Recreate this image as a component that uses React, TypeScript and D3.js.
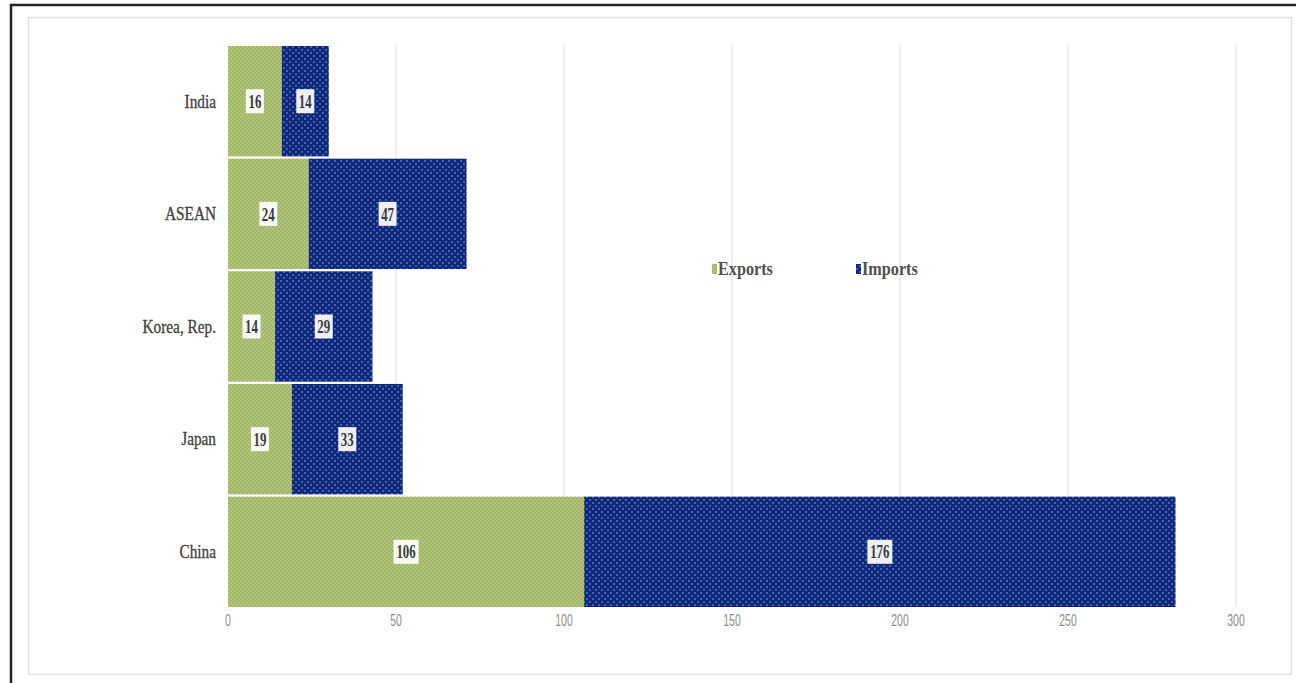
import React from "react";
import * as d3 from "d3";

const categories = ["India", "ASEAN", "Korea, Rep.", "Japan", "China"];
const exportsVals = [16, 24, 14, 19, 106];
const importsVals = [14, 47, 29, 33, 176];
const xTicks = [0, 50, 100, 150, 200, 250, 300];
const seriesNames = ["Exports", "Imports"];

const W = 1296;
const H = 683;
const SERIF = "'Liberation Serif', 'Times New Roman', serif";

export default function App() {
  const x = d3.scaleLinear().domain([0, 300]).range([228, 1236]);
  const y = d3
    .scaleBand<string>()
    .domain(categories)
    .range([46, 607])
    .paddingInner(0.02)
    .paddingOuter(0);
  const bw = y.bandwidth();
  const textCol = "#3a3a3a";

  const label = (cx: number, cy: number, v: number, key: string) => {
    const s = String(v);
    const w = s.length * 7 + 4;
    return (
      <g key={key} transform={`translate(${cx},${cy})`}>
        <rect x={-w / 2} y={-12} width={w} height={24} fill="#ffffff" opacity={0.92} />
        <g transform={`scale(0.68,1)`}>
          <text
            x={0}
            y={0}
            dy="0.35em"
            textAnchor="middle"
            fontFamily={SERIF}
            fontWeight="bold"
            fontSize={19}
            fill={textCol}
          >
            {s}
          </text>
        </g>
      </g>
    );
  };

  return (
    <svg
      width={W}
      height={H}
      style={{ position: "absolute", left: 0, top: 0, background: "#fff" }}
    >
      <defs>
        <pattern id="pGreen" width={4} height={4} patternUnits="userSpaceOnUse">
          <rect width={4} height={4} fill="#a0b565" />
          <rect x={0} y={0} width={2} height={2} fill="#b3c57c" />
          <rect x={2} y={2} width={2} height={2} fill="#b3c57c" />
        </pattern>
        <pattern id="pNavy" width={6} height={6} patternUnits="userSpaceOnUse">
          <rect width={6} height={6} fill="#0f2878" />
          <rect x={1} y={1} width={2} height={2} fill="#4561b4" />
          <rect x={4} y={4} width={2} height={2} fill="#4561b4" />
        </pattern>
      </defs>

      <rect x={11} y={5} width={1300} height={700} fill="none" stroke="#222" strokeWidth={2.5} />
      <rect x={28.5} y={17.5} width={1263} height={657} fill="none" stroke="#e2e2e2" strokeWidth={1.5} />

      {xTicks.slice(1).map((t) => (
        <line key={"g" + t} x1={x(t)} x2={x(t)} y1={45} y2={607} stroke="#e3e3e3" strokeWidth={1.2} />
      ))}

      {categories.map((c, i) => {
        const y0 = y(c)!;
        return (
          <g key={c}>
            <rect x={x(0)} y={y0} width={x(exportsVals[i]) - x(0)} height={bw} fill="url(#pGreen)" />
            <rect
              x={x(exportsVals[i])}
              y={y0}
              width={x(exportsVals[i] + importsVals[i]) - x(exportsVals[i])}
              height={bw}
              fill="url(#pNavy)"
            />
          </g>
        );
      })}

      {categories.map((c, i) => {
        const cy = y(c)! + bw / 2;
        return (
          <g key={"l" + c}>
            {label((x(0) + x(exportsVals[i])) / 2, cy, exportsVals[i], "e")}
            {label(
              (x(exportsVals[i]) + x(exportsVals[i] + importsVals[i])) / 2,
              cy,
              importsVals[i],
              "i"
            )}
          </g>
        );
      })}

      {categories.map((c) => (
        <g key={"c" + c} transform={`translate(216,${y(c)! + bw / 2}) scale(0.85,1)`}>
          <text
            x={0}
            y={0}
            dy="0.35em"
            textAnchor="end"
            fontFamily={SERIF}
            fontSize={18}
            fill="#404040"
            stroke="#404040"
            strokeWidth={0.3}
          >
            {c}
          </text>
        </g>
      ))}

      {xTicks.map((t) => (
        <g key={"t" + t} transform={`translate(${x(t)},620) scale(0.62,1)`}>
          <text
            x={0}
            y={0}
            dy="0.35em"
            textAnchor="middle"
            fontFamily="'Liberation Sans', Arial, sans-serif"
            fontSize={17}
            fill="#8c8c8c"
          >
            {t}
          </text>
        </g>
      ))}

      {seriesNames.map((s, i) => {
        const lx = i === 0 ? 712 : 856;
        return (
          <g key={"lg" + s}>
            <rect x={lx} y={264} width={5} height={10} fill={i === 0 ? "url(#pGreen)" : "url(#pNavy)"} />
            <g transform={`translate(${lx + 6},269) scale(0.9,1)`}>
              <text
                x={0}
                y={0}
                dy="0.35em"
                fontFamily={SERIF}
                fontWeight="bold"
                fontSize={18}
                fill="#505050"
              >
                {s}
              </text>
            </g>
          </g>
        );
      })}
    </svg>
  );
}
